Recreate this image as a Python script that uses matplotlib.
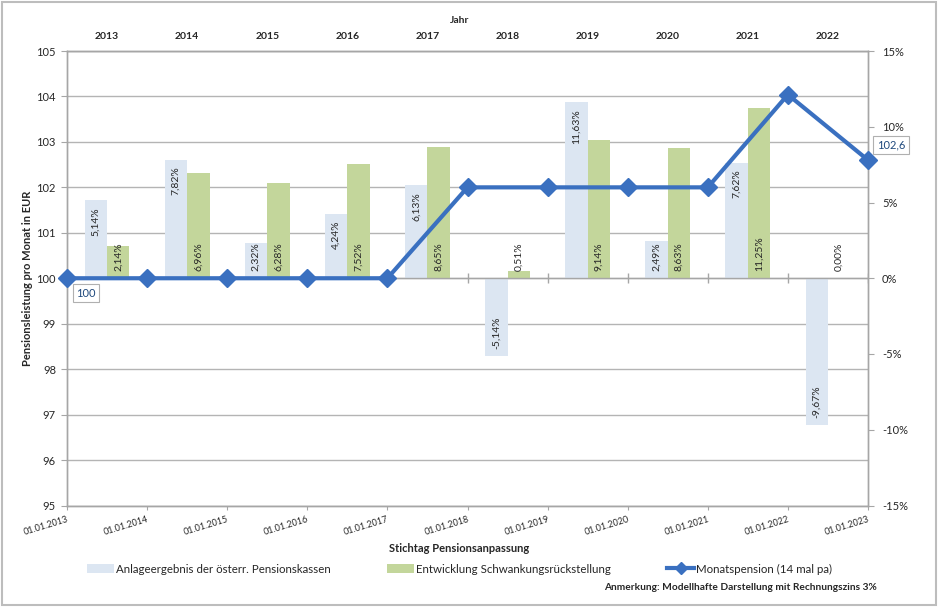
import numpy as np
import matplotlib
matplotlib.use('Agg')
import matplotlib.pyplot as plt
from matplotlib.patches import Rectangle, Patch
from matplotlib.lines import Line2D
from matplotlib.ticker import MultipleLocator

plt.rcParams['font.family'] = ['Lato', 'DejaVu Sans']

# data
dates = ['01.01.2013', '01.01.2014', '01.01.2015', '01.01.2016', '01.01.2017', '01.01.2018',
         '01.01.2019', '01.01.2020', '01.01.2021', '01.01.2022', '01.01.2023']
years = ['2013', '2014', '2015', '2016', '2017', '2018', '2019', '2020', '2021', '2022']
anlage = [5.14, 7.82, 2.32, 4.24, 6.13, -5.14, 11.63, 2.49, 7.62, -9.67]
schwankung = [2.14, 6.96, 6.28, 7.52, 8.65, 0.51, 9.14, 8.63, 11.25, 0.00]
pension = [100, 100, 100, 100, 100, 102.0, 102.0, 102.0, 102.0, 104.04, 102.6]
pct_ticks = [-15, -10, -5, 0, 5, 10, 15]
pct_labels = ['-15%', '-10%', '-5%', '0%', '5%', '10%', '15%']
eur_ticks = list(range(95, 106))

blue_c = '#dce6f2'
green_c = '#c3d69b'
line_c = '#3a70c0'
axis_c = '#a6a6a6'
grid_c = '#b4b4b4'
text_c = '#262626'
lbl_c = '#1f497d'

fig = plt.figure(figsize=(9.38, 6.07), dpi=100)
ax = fig.add_axes([67 / 938, 1 - 505.5 / 607, 801 / 938, 454.5 / 607])
ax2 = ax.twinx()

bounds = np.arange(len(dates))
centers = np.arange(len(years)) + 0.5
w = 0.28

# bars (percent scale, right axis)
ax.set_axisbelow(True)
b1 = ax.bar(centers - w / 2, anlage, w, color=blue_c, zorder=2)
b2 = ax.bar(centers + w / 2, schwankung, w, color=green_c, zorder=2)
ax.set_ylim(-15, 15)
ax.set_xlim(0, len(years))
ax.yaxis.tick_right()
ax.set_yticks(pct_ticks)
ax.set_yticklabels(pct_labels)
ax.yaxis.set_minor_locator(MultipleLocator(3))
ax.yaxis.remove_overlapping_locs = False
ax.grid(which='minor', axis='y', color=grid_c, lw=1)
ax.tick_params(axis='y', which='minor', length=0)
ax.tick_params(axis='y', which='major', direction='out', length=4, color=axis_c,
               labelsize=8, labelcolor=text_c, pad=6)

# zero line of the bar category axis with cross ticks
ax.axhline(0, color=axis_c, lw=1, zorder=2.5)
ax.plot(bounds, np.zeros(len(bounds)), ls='none', marker='|', ms=7, mew=1,
        color=axis_c, zorder=2.5)


def fmt(v):
    return f'{v:.2f}'.replace('.', ',') + '%'


for xc, v in zip(centers - w / 2, anlage):
    if abs(v) < 3:
        ax.text(xc, 0.5, fmt(v), rotation=90, ha='center', va='bottom', fontsize=7.5, color=text_c, zorder=4)
    elif v > 0:
        ax.text(xc, v - 0.45, fmt(v), rotation=90, ha='center', va='top', fontsize=7.5, color=text_c, zorder=4)
    else:
        ax.text(xc, v + 0.45, fmt(v), rotation=90, ha='center', va='bottom', fontsize=7.5, color=text_c, zorder=4)

for xc, v in zip(centers + w / 2, schwankung):
    ax.text(xc, 0.5, fmt(v), rotation=90, ha='center', va='bottom', fontsize=7.5, color=text_c, zorder=4)

# bottom date axis
ax.set_xticks(bounds)
ax.set_xticklabels(dates, rotation=17, ha='right', rotation_mode='anchor', fontsize=6.5, color=text_c)
ax.tick_params(axis='x', direction='out', length=3, color=axis_c, pad=4)
ax.set_xlabel('Stichtag Pensionsanpassung', fontweight='bold', fontsize=8, color=text_c)
ax.xaxis.set_label_coords(0.49, -0.082)

# top year axis
sec = ax.secondary_xaxis('top')
sec.set_xticks(centers)
sec.set_xticklabels(years, fontweight='bold', fontsize=7.5, color=text_c)
sec.tick_params(length=0, pad=7)
sec.set_xlabel('Jahr', fontweight='bold', fontsize=7.5, color=text_c)
sec.xaxis.set_label_coords(0.49, 1.062, transform=ax.transAxes)
sec.spines['top'].set_color(axis_c)

# monthly pension line (EUR scale, left axis)
ax2.plot(bounds, pension, color=line_c, lw=3, marker='D', ms=9.5, clip_on=False, zorder=5)
ax2.set_ylim(95, 105)
ax2.yaxis.tick_left()
ax2.yaxis.set_label_position('left')
ax2.set_yticks(eur_ticks)
ax2.tick_params(axis='y', direction='out', length=4, color=axis_c, labelsize=8, labelcolor=text_c, pad=4)
ax2.set_ylabel('Pensionsleistung pro Monat in EUR', fontweight='bold', fontsize=8, color=text_c)
ax2.yaxis.set_label_coords(-0.043, 0.5)

for a in (ax, ax2):
    for s in a.spines.values():
        s.set_color(axis_c)
        s.set_linewidth(1)

box = dict(boxstyle='square,pad=0.3', fc='white', ec='#b0b0b0', lw=0.8)
first = pension[0]
last = pension[-1]
ax2.annotate(f'{first:g}', (bounds[0], first), xytext=(19, -15), textcoords='offset pixels',
             ha='center', va='center', fontsize=8, color=lbl_c, bbox=box, annotation_clip=False, zorder=6)
ax2.annotate(f'{last:g}'.replace('.', ','), (bounds[-1], last), xytext=(23, 15), textcoords='offset pixels',
             ha='center', va='center', fontsize=8, color=lbl_c, bbox=box, annotation_clip=False, zorder=6)

# legend
handles = [Patch(facecolor=blue_c), Patch(facecolor=green_c),
           Line2D([], [], color=line_c, lw=3, marker='D', ms=6)]
labels = ['Anlageergebnis der österr. Pensionskassen', 'Entwicklung Schwankungsrückstellung',
          'Monatspension (14 mal pa)']
fig.legend(handles, labels, loc='center', bbox_to_anchor=(0.49, 1 - 569 / 607), ncol=3, frameon=False,
           fontsize=8.3, handlelength=2.3, handleheight=0.7, handletextpad=0.2, columnspacing=4.9,
           labelcolor=text_c)

fig.text(877 / 938, 1 - 587 / 607, 'Anmerkung: Modellhafte Darstellung mit Rechnungszins 3%',
         ha='right', va='center', fontsize=7.3, fontweight='bold', color=text_c)

# chart area border
fig.patches.append(Rectangle((0.002, 0.003), 0.996, 0.994, transform=fig.transFigure,
                             fill=False, ec='#bdbdbd', lw=1.5))

fig.savefig('out.png', dpi=100)
